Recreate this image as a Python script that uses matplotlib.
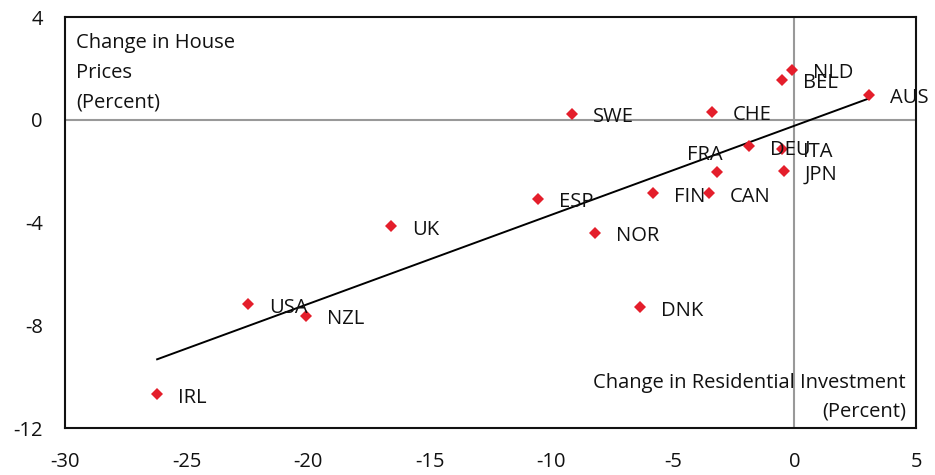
import numpy as np
import matplotlib
matplotlib.use("Agg")
import matplotlib.pyplot as plt

plt.rcParams['font.family'] = ['Open Sans', 'DejaVu Sans']
plt.rcParams['axes.unicode_minus'] = False

countries = ["AUS", "NLD", "BEL", "SWE", "CHE", "DEU", "ITA", "FRA", "JPN",
             "FIN", "CAN", "ESP", "UK", "NOR", "DNK", "USA", "NZL", "IRL"]
res_invest = [3.06, -0.09, -0.52, -9.15, -3.39, -1.85, -0.51, -3.18, -0.44,
              -5.83, -3.53, -10.56, -16.60, -8.21, -6.34, -22.46, -20.10, -26.21]
house_prices = [0.98, 1.94, 1.55, 0.23, 0.31, -1.04, -1.13, -2.05, -1.99,
                -2.87, -2.87, -3.07, -4.14, -4.39, -7.29, -7.18, -7.64, -10.69]
x_ticks = [-30, -25, -20, -15, -10, -5, 0, 5]
y_ticks = [-12, -8, -4, 0, 4]

x = np.array(res_invest)
y = np.array(house_prices)

FS = 14.5

fig = plt.figure(figsize=(9.35, 4.75), dpi=100)
ax = fig.add_axes([0.0695, 0.0989, 0.9102, 0.8653])
ax.set_xlim(-30, 5)
ax.set_ylim(-12, 4)

ax.axhline(0, color='#999999', lw=1.5, zorder=1)
ax.axvline(0, color='#999999', lw=1.5, zorder=1)

slope, intercept = np.polyfit(x, y, 1)
xs = np.array([x.min(), x.max()])
ax.plot(xs, slope * xs + intercept, color='black', lw=1.4, zorder=2)

ax.plot(x, y, linestyle='none', marker='D', ms=6, color='#E41E2B',
        markeredgewidth=0, zorder=3)

special = {"FRA": ((-9.1, 12.7), 'center')}
for c, xi, yi in zip(countries, x, y):
    off, ha = special.get(c, ((15.1, -2.5), 'left'))
    ax.annotate(c, (xi, yi), xytext=off, textcoords='offset points',
                ha=ha, va='center', fontsize=FS, color='#111111', zorder=4)

ax.set_xticks(x_ticks)
ax.set_yticks(y_ticks)
ax.tick_params(axis='both', length=0, labelsize=FS, colors='#111111')
ax.tick_params(axis='y', pad=16)
ax.tick_params(axis='x', pad=17)
for s in ax.spines.values():
    s.set_linewidth(1.5)
    s.set_color('#111111')

ax.text(0.013, 0.96, "Change in House\nPrices\n(Percent)", transform=ax.transAxes,
        ha='left', va='top', fontsize=FS, linespacing=1.62, color='#111111')
ax.text(0.988, 0.015, "Change in Residential Investment\n(Percent)", transform=ax.transAxes,
        ha='right', va='bottom', fontsize=FS, linespacing=1.57, color='#111111',
        multialignment='right')

fig.savefig("out.png", dpi=100)
